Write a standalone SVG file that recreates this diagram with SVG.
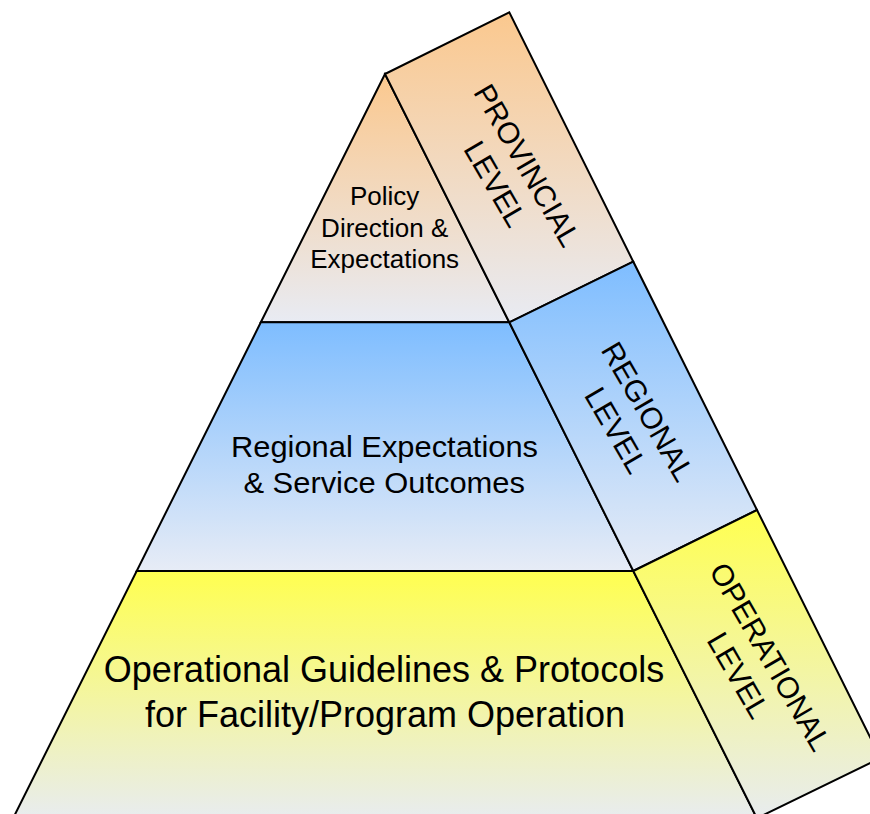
<svg xmlns="http://www.w3.org/2000/svg" width="870" height="814" viewBox="0 0 870 814">
  <defs>
    <linearGradient id="gProv" x1="0" y1="0" x2="0" y2="1">
      <stop offset="0" stop-color="#FBC88E"/>
      <stop offset="1" stop-color="#E8EBF3"/>
    </linearGradient>
    <linearGradient id="gReg" x1="0" y1="0" x2="0" y2="1">
      <stop offset="0" stop-color="#7EBDFF"/>
      <stop offset="1" stop-color="#E7ECF6"/>
    </linearGradient>
    <linearGradient id="gOps" x1="0" y1="0" x2="0" y2="1">
      <stop offset="0" stop-color="#FFFF50"/>
      <stop offset="1" stop-color="#E8ECEF"/>
    </linearGradient>
    <style>
      .face { stroke: #000; stroke-width: 2; stroke-linejoin: miter; }
      .lbl { font-family: "Liberation Sans", Arial, sans-serif; fill: #000; text-anchor: middle; }
      .side { font-size: 30px; }
    </style>
  </defs>
  <rect width="870" height="814" fill="#FFFFFF"/>

  <!-- top tier: provincial -->
  <g id="provincial">
    <path class="face" fill="url(#gProv)" d="M385,74 L260.8,322.3 L509.3,322.3 Z"/>
    <path class="face" fill="url(#gProv)" d="M385,74 L509.3,12.3 L633.3,261.7 L509.3,322.3 Z"/>
    <text class="lbl" font-size="26" x="384.7" y="205">Policy</text>
    <text class="lbl" font-size="26" x="384.7" y="237">Direction &amp;</text>
    <text class="lbl" font-size="26" x="384.7" y="268">Expectations</text>
    <g transform="translate(511.5,174.5) rotate(60)">
      <text class="lbl side" x="0" y="-7.8">PROVINCIAL</text>
      <text class="lbl side" x="0" y="29.2">LEVEL</text>
    </g>
  </g>

  <!-- middle tier: regional -->
  <g id="regional">
    <path class="face" fill="url(#gReg)" d="M260.8,322.3 L509.3,322.3 L633.3,571 L136.7,571 Z"/>
    <path class="face" fill="url(#gReg)" d="M509.3,322.3 L633.3,261.7 L757,510 L633.3,571 Z"/>
    <text class="lbl" font-size="30" x="384.5" y="456.5" textLength="307" lengthAdjust="spacingAndGlyphs">Regional Expectations</text>
    <text class="lbl" font-size="30" x="384.2" y="493" textLength="281.5" lengthAdjust="spacingAndGlyphs">&amp; Service Outcomes</text>
    <g transform="translate(632.2,420.8) rotate(60)">
      <text class="lbl side" x="0" y="-7.8">REGIONAL</text>
      <text class="lbl side" x="0" y="29.2">LEVEL</text>
    </g>
  </g>

  <!-- base tier: operational -->
  <g id="operational">
    <path class="face" fill="url(#gOps)" d="M136.7,571 L633.3,571 L756.9,818.2 L13.1,818.2 Z"/>
    <path class="face" fill="url(#gOps)" d="M633.3,571 L757,510 L880.5,758 L756.9,818.2 Z"/>
    <text class="lbl" font-size="36" x="384" y="682">Operational Guidelines &amp; Protocols</text>
    <text class="lbl" font-size="36" x="385" y="726.5">for Facility/Program Operation</text>
    <g transform="translate(754.6,665.9) rotate(60)">
      <text class="lbl side" x="0" y="-7.8">OPERATIONAL</text>
      <text class="lbl side" x="0" y="29.2">LEVEL</text>
    </g>
  </g>

  <g id="connectors"/>
</svg>
